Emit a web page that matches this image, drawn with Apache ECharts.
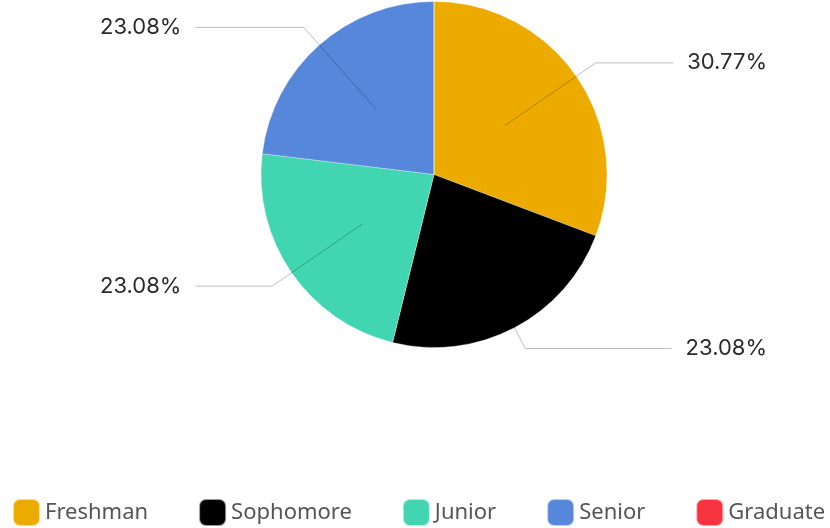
<!DOCTYPE html>
<html>
<head>
<meta charset="utf-8">
<script src="https://cdn.jsdelivr.net/npm/echarts@6/dist/echarts.min.js"></script>
<style>
html,body{margin:0;padding:0;background:#fff;}
#c{width:830px;height:528px;}
</style>
</head>
<body>
<div id="c"></div>
<script>
var categories = ['Freshman', 'Sophomore', 'Junior', 'Senior', 'Graduate'];
var values = [4, 3, 3, 3, 0];
var colors = ['#EDAB00', '#000000', '#41D6B1', '#5787DB', '#F7333F'];

var total = values.reduce(function (a, b) { return a + b; }, 0);
var chart = echarts.init(document.getElementById('c'));
var font = '"Noto Sans", "Open Sans", sans-serif';
var labelFont = 'Inter, "Noto Sans", sans-serif';

var pieData = categories.map(function (n, i) {
  return { name: n, value: values[i], itemStyle: { color: colors[i] } };
});
var labelData = categories.map(function (n, i) {
  var d = { name: n, value: values[i], itemStyle: { color: 'rgba(0,0,0,0)' } };
  if (values[i] === 0) { d.label = { show: false }; d.labelLine = { show: false }; }
  return d;
});

chart.setOption({
  animation: false,
  color: colors,
  legend: {
    bottom: 1,
    left: 12,
    padding: 0,
    icon: 'roundRect',
    itemWidth: 27,
    itemHeight: 27,
    itemGap: 50,
    textStyle: { fontSize: 22, color: '#555', fontFamily: font },
    data: categories.map(function (n, i) {
      return { name: n, itemStyle: { color: colors[i] } };
    })
  },
  series: [
    {
      type: 'pie',
      z: 2,
      center: [434, 174.5],
      radius: 173,
      startAngle: 90,
      clockwise: true,
      label: { show: false },
      labelLine: { show: false },
      itemStyle: { borderColor: 'rgba(255,255,255,0.6)', borderWidth: 0.5 },
      emphasis: { disabled: true },
      data: pieData
    },
    {
      type: 'pie',
      z: 3,
      silent: true,
      left: 37,
      top: 0,
      right: 0,
      bottom: 0,
      center: [397, 174.5],
      radius: 86.5,
      startAngle: 90,
      clockwise: true,
      avoidLabelOverlap: true,
      label: {
        show: true,
        position: 'outside',
        alignTo: 'edge',
        edgeDistance: 63,
        formatter: function (p) {
          return (p.value / total * 100).toFixed(2) + '%';
        },
        fontSize: 22,
        color: '#2b2b2b',
        fontFamily: labelFont,
        distanceToLabelLine: 14
      },
      labelLine: {
        show: true,
        length: 110,
        length2: 30,
        lineStyle: { color: 'rgba(0,0,0,0.25)', width: 1 }
      },
      emphasis: { disabled: true },
      data: labelData
    }
  ]
});
</script>
</body>
</html>
